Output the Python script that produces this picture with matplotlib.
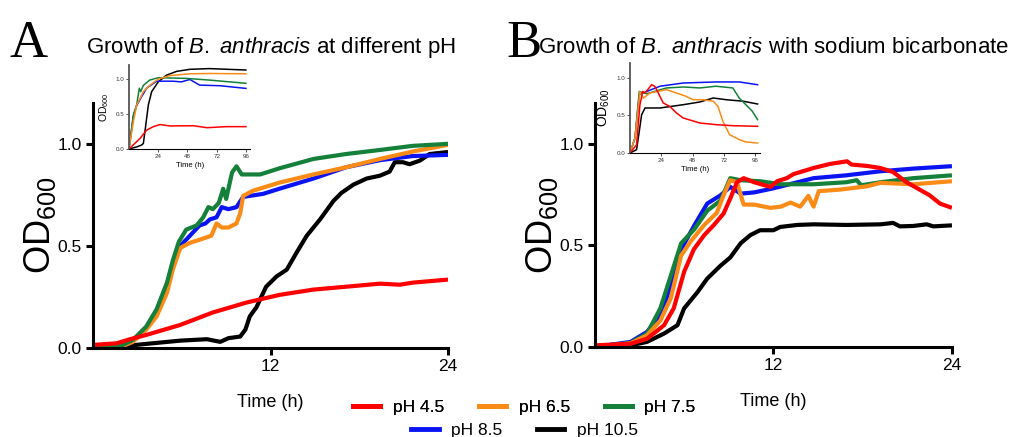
import matplotlib
matplotlib.use("Agg")
import matplotlib.pyplot as plt
from matplotlib.lines import Line2D

plt.rcParams['font.family'] = ['Liberation Sans', 'DejaVu Sans']
plt.rcParams['mathtext.fontset'] = 'custom'
plt.rcParams['mathtext.rm'] = 'Liberation Sans'
plt.rcParams['mathtext.it'] = 'Liberation Sans:italic'
plt.rcParams['mathtext.bf'] = 'Liberation Sans:bold'

labels = ["pH 4.5", "pH 6.5", "pH 7.5", "pH 8.5", "pH 10.5"]
colors = ["#fe0000", "#fb8b17", "#14803a", "#0a14f2", "#000000"]

# ---------- Panel A main (0-24 h) ----------
a_red_t = [0, 1.6, 2.5, 3.6, 5.9, 8.1, 10.4, 12.6, 14.9, 17.1, 19.4, 20.75, 21.6, 24]
a_red_y = [0.015, 0.023, 0.043, 0.064, 0.113, 0.174, 0.223, 0.26, 0.286, 0.30, 0.315, 0.31, 0.32, 0.335]
a_org_t = [0, 1.8, 2.7, 3.6, 4.3, 5.0, 5.4, 5.9, 6.55, 7.2, 8.0, 8.35, 8.7, 9.15, 9.7, 9.95, 10.15, 10.8, 12.6, 14.9, 17.1, 19.4, 21.6, 24]
a_org_y = [0.0, 0.004, 0.03, 0.09, 0.155, 0.27, 0.385, 0.49, 0.515, 0.53, 0.55, 0.61, 0.59, 0.59, 0.61, 0.66, 0.745, 0.77, 0.81, 0.85, 0.885, 0.926, 0.962, 0.995]
a_grn_t = [0, 1.8, 2.7, 3.6, 4.3, 5.0, 5.4, 5.8, 6.3, 7.0, 7.45, 7.8, 8.1, 8.5, 8.8, 9.0, 9.4, 9.7, 10.05, 11.3, 12.6, 14.9, 17.1, 19.4, 21.6, 24]
a_grn_y = [0.0, 0.007, 0.04, 0.105, 0.19, 0.32, 0.43, 0.52, 0.58, 0.60, 0.64, 0.69, 0.68, 0.71, 0.78, 0.73, 0.86, 0.89, 0.85, 0.85, 0.88, 0.926, 0.95, 0.97, 0.99, 1.0]
a_blu_t = [0, 1.8, 2.7, 3.6, 4.3, 5.0, 5.4, 5.9, 6.55, 7.2, 7.6, 7.9, 8.35, 8.7, 9.15, 9.7, 10.15, 11.5, 12.6, 14.9, 17.1, 19.4, 21.6, 24]
a_blu_y = [0.0, 0.006, 0.035, 0.10, 0.18, 0.31, 0.40, 0.50, 0.55, 0.60, 0.61, 0.63, 0.64, 0.69, 0.68, 0.69, 0.74, 0.755, 0.78, 0.83, 0.885, 0.92, 0.94, 0.946]
a_blk_t = [0, 1.8, 3.6, 5.9, 7.7, 8.6, 9.15, 9.95, 10.3, 10.6, 11.05, 11.7, 12.4, 13.1, 13.75, 14.45, 15.35, 16.25, 16.8, 17.6, 18.5, 19.4, 20.05, 20.4, 20.95, 21.4, 22.1, 22.75, 24]
a_blk_y = [0.0, 0.007, 0.02, 0.036, 0.043, 0.03, 0.048, 0.056, 0.09, 0.155, 0.20, 0.30, 0.35, 0.384, 0.466, 0.55, 0.63, 0.72, 0.76, 0.80, 0.83, 0.844, 0.864, 0.91, 0.91, 0.90, 0.918, 0.95, 0.96]

# ---------- Panel A inset (0-96 h) ----------
ai_red_t = [0, 9, 14.5, 20, 25.4, 33.6, 53, 64, 80, 96]
ai_red_y = [0, 0.15, 0.27, 0.32, 0.35, 0.33, 0.333, 0.305, 0.32, 0.32]
ai_org_t = [0, 3.6, 6.3, 9, 11.8, 17, 24, 33.6, 50, 66, 96]
ai_org_y = [0, 0.39, 0.63, 0.72, 0.82, 0.91, 1.0, 1.05, 1.076, 1.08, 1.076]
ai_grn_t = [0, 3.6, 6.3, 8.5, 9.6, 11.8, 17, 24, 47, 66, 96]
ai_grn_y = [0, 0.49, 0.63, 0.87, 0.82, 0.91, 0.986, 1.02, 1.01, 0.986, 0.94]
ai_blu_t = [0, 3.6, 6.3, 10.4, 14.5, 22.7, 36, 43, 50, 58, 75, 96]
ai_blu_y = [0, 0.47, 0.62, 0.75, 0.87, 0.97, 0.97, 0.96, 0.995, 0.914, 0.905, 0.867]
ai_blk_t = [0, 6.3, 10.4, 11.8, 13.1, 15.9, 18.6, 24, 30.9, 39, 50, 66, 96]
ai_blk_y = [0, 0.03, 0.057, 0.08, 0.25, 0.63, 0.82, 0.96, 1.057, 1.11, 1.14, 1.15, 1.13]

# ---------- Panel B main (0-24 h) ----------
b_red_t = [0, 2.4, 3.5, 4.65, 5.3, 6.0, 6.65, 7.35, 8.0, 8.65, 9.1, 9.55, 10.0, 10.7, 11.8, 12.25, 12.9, 13.35, 14.7, 15.8, 16.95, 17.25, 18.3, 19.2, 20.05, 20.95, 22.5, 23.2, 24]
b_red_y = [0.008, 0.016, 0.04, 0.107, 0.19, 0.37, 0.48, 0.55, 0.60, 0.656, 0.73, 0.81, 0.83, 0.81, 0.787, 0.815, 0.83, 0.85, 0.88, 0.90, 0.913, 0.897, 0.89, 0.88, 0.86, 0.81, 0.746, 0.705, 0.684]
b_org_t = [0, 2.4, 3.5, 4.4, 5.1, 5.8, 6.45, 7.35, 8.2, 8.65, 9.1, 9.55, 10.0, 10.7, 11.8, 12.5, 13.15, 13.8, 14.35, 14.7, 15.05, 16.5, 18.3, 19.2, 21.4, 24]
b_org_y = [0, 0.018, 0.057, 0.13, 0.24, 0.45, 0.52, 0.60, 0.66, 0.746, 0.82, 0.81, 0.70, 0.70, 0.684, 0.69, 0.71, 0.69, 0.743, 0.69, 0.766, 0.774, 0.79, 0.807, 0.80, 0.815]
b_grn_t = [0, 2.4, 3.5, 4.4, 5.1, 5.8, 6.7, 7.55, 8.45, 9.1, 9.8, 11.1, 12.5, 14.7, 16.9, 17.6, 17.9, 19.2, 21.4, 24]
b_grn_y = [0, 0.02, 0.065, 0.19, 0.35, 0.51, 0.58, 0.67, 0.72, 0.83, 0.82, 0.815, 0.80, 0.80, 0.81, 0.82, 0.795, 0.81, 0.83, 0.844]
b_blu_t = [0, 2.4, 3.5, 4.4, 5.1, 5.8, 6.7, 7.55, 8.45, 9.1, 9.8, 10.7, 12.0, 14.7, 16.9, 19.2, 21.4, 24]
b_blu_y = [0, 0.025, 0.074, 0.156, 0.30, 0.48, 0.60, 0.705, 0.746, 0.787, 0.754, 0.76, 0.78, 0.83, 0.844, 0.864, 0.877, 0.889]
b_blk_t = [0, 2.4, 3.5, 4.65, 5.55, 6.0, 6.9, 7.55, 8.45, 9.1, 9.8, 10.45, 11.1, 12.0, 12.45, 13.6, 14.7, 16.9, 19.2, 20.05, 20.5, 21.4, 22.3, 22.75, 24]
b_blk_y = [0, 0.008, 0.025, 0.066, 0.107, 0.19, 0.27, 0.336, 0.40, 0.44, 0.51, 0.55, 0.574, 0.574, 0.59, 0.60, 0.603, 0.60, 0.603, 0.61, 0.593, 0.595, 0.603, 0.593, 0.598]

# ---------- Panel B inset (0-96 h) ----------
bi_red_t = [0, 5, 7.6, 9.7, 11.5, 16.6, 19, 21.7, 25.5, 30.6, 35.7, 40.8, 53.6, 66, 79, 98]
bi_red_y = [0, 0.11, 0.64, 0.82, 0.80, 0.91, 0.89, 0.80, 0.667, 0.62, 0.533, 0.467, 0.40, 0.378, 0.364, 0.356]
bi_org_t = [0, 3.8, 7.6, 10.2, 15.3, 28, 35.7, 43, 48.5, 56, 64, 67.6, 71.4, 76.5, 84, 89, 98]
bi_org_y = [0, 0.2, 0.82, 0.73, 0.80, 0.844, 0.80, 0.756, 0.71, 0.71, 0.69, 0.62, 0.42, 0.244, 0.178, 0.147, 0.133]
bi_grn_t = [0, 3.8, 7.1, 12.8, 28, 41, 53.6, 66, 79, 84, 89, 94, 98]
bi_grn_y = [0, 0.2, 0.82, 0.79, 0.867, 0.88, 0.867, 0.89, 0.867, 0.73, 0.644, 0.556, 0.444]
bi_blu_t = [0, 3.8, 7.1, 12.8, 23, 41, 66, 84, 98]
bi_blu_y = [0, 0.2, 0.78, 0.82, 0.89, 0.933, 0.947, 0.947, 0.91]
bi_blk_t = [0, 5, 7.1, 8.9, 11.5, 23, 41, 53.6, 64, 74, 87, 98]
bi_blk_y = [0, 0.044, 0.29, 0.51, 0.60, 0.60, 0.644, 0.68, 0.733, 0.71, 0.69, 0.653]

main_ticks_x = [12, 24]
main_ticks_y = [0.0, 0.5, 1.0]
inset_ticks_x = [24, 48, 72, 96]

fig = plt.figure(figsize=(10.10, 4.37), dpi=100)

def style_main(ax):
    ax.set_xlim(0, 24)
    ax.set_ylim(0, 1.2)
    ax.set_xticks(main_ticks_x)
    ax.set_yticks(main_ticks_y)
    ax.set_yticklabels(["0.0", "0.5", "1.0"])
    for s in ["top", "right"]:
        ax.spines[s].set_visible(False)
    for s in ["left", "bottom"]:
        ax.spines[s].set_linewidth(2.2)
    ax.tick_params(width=2.2, length=5, labelsize=12.5, pad=3)
    ax.set_xlabel("Time (h)", fontsize=13, labelpad=14)
    ax.set_ylabel("OD$_{600}$", fontsize=26, labelpad=0)

def style_inset(ax, ylabsize):
    ax.set_xlim(0, 99.5)
    ax.set_ylim(0, 1.2)
    ax.set_xticks(inset_ticks_x)
    ax.set_yticks(main_ticks_y)
    ax.set_yticklabels(["0.0", "0.5", "1.0"])
    for s in ["top", "right"]:
        ax.spines[s].set_visible(False)
    ax.spines["left"].set_linewidth(1.3)
    ax.spines["left"].set_color("#555555")
    ax.spines["bottom"].set_linewidth(0.8)
    ax.tick_params(width=0.6, length=2, labelsize=4.5, pad=1.5, colors="#333333")
    ax.set_xlabel("Time (h)", fontsize=5.5, labelpad=2)
    ax.set_ylabel("OD$_{600}$", fontsize=ylabsize, labelpad=3)
    ax.patch.set_alpha(0)

axA = fig.add_axes([0.0921, 0.2037, 0.3515, 0.5606])
axB = fig.add_axes([0.5890, 0.2060, 0.3535, 0.5585])
insA = fig.add_axes([0.1277, 0.6590, 0.1200, 0.1920])
insB = fig.add_axes([0.6238, 0.6499, 0.1282, 0.2060])

A_series = [(a_blk_t, a_blk_y, 4), (a_blu_t, a_blu_y, 3), (a_org_t, a_org_y, 1), (a_grn_t, a_grn_y, 2), (a_red_t, a_red_y, 0)]
B_series = [(b_blk_t, b_blk_y, 4), (b_blu_t, b_blu_y, 3), (b_grn_t, b_grn_y, 2), (b_org_t, b_org_y, 1), (b_red_t, b_red_y, 0)]
Ai_series = [(ai_blk_t, ai_blk_y, 4), (ai_blu_t, ai_blu_y, 3), (ai_grn_t, ai_grn_y, 2), (ai_org_t, ai_org_y, 1), (ai_red_t, ai_red_y, 0)]
Bi_series = [(bi_blk_t, bi_blk_y, 4), (bi_blu_t, bi_blu_y, 3), (bi_grn_t, bi_grn_y, 2), (bi_org_t, bi_org_y, 1), (bi_red_t, bi_red_y, 0)]

for ax, ser in [(axA, A_series), (axB, B_series)]:
    for t, y, i in ser:
        ax.plot(t, y, color=colors[i], lw=3.0, solid_capstyle="butt", solid_joinstyle="round")
    style_main(ax)

for ax, ser, ls in [(insA, Ai_series, 7.5), (insB, Bi_series, 10)]:
    for t, y, i in ser:
        ax.plot(t, y, color=colors[i], lw=1.1)
    style_inset(ax, ls)

axA.set_title("Growth of $\\mathit{B.\\ anthracis}$ at different pH", fontsize=16, pad=36)
axB.set_title("Growth of $\\mathit{B.\\ anthracis}$ with sodium bicarbonate", fontsize=16, pad=36)

fig.text(0.028, 0.900, "A", fontsize=38, family="Liberation Serif", ha="center", va="center")
fig.text(0.519, 0.900, "B", fontsize=38, family="Liberation Serif", ha="center", va="center")

h = [Line2D([], [], color=c, lw=3.5) for c in colors]
leg1 = fig.legend(h[:3], labels[:3], loc="center", bbox_to_anchor=(0.519, 0.067), ncol=3,
                  frameon=False, fontsize=12.5, handlelength=1.6, handletextpad=0.7,
                  columnspacing=2.0, borderpad=0, borderaxespad=0)
fig.add_artist(leg1)
fig.legend(h[3:], labels[3:], loc="center", bbox_to_anchor=(0.519, 0.014), ncol=2,
           frameon=False, fontsize=12.5, handlelength=1.6, handletextpad=0.7,
           columnspacing=2.0, borderpad=0, borderaxespad=0)

fig.savefig("out.png", dpi=100)
